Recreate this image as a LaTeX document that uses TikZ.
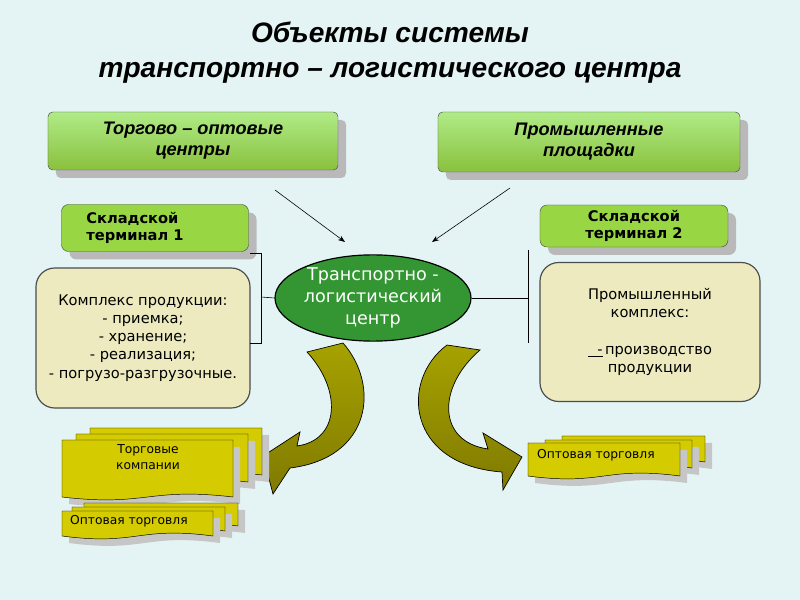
\documentclass[tikz,border=0pt]{standalone}
\usepackage{fontspec}
\setmainfont{DejaVu Sans}
\newfontfamily\titlefont{Liberation Sans}
\usetikzlibrary{arrows.meta, shadows, shapes.geometric}
\definecolor{bg}{RGB}{228, 244, 244}
\definecolor{lime}{RGB}{153, 214, 68}
\definecolor{pale}{RGB}{236, 234, 190}
\definecolor{forest}{RGB}{51, 150, 51}
\definecolor{mustard}{RGB}{212, 204, 0}
\definecolor{olive}{RGB}{128, 122, 0}
\newcommand{\docsheet}[4]{
  \fill[gray!45] (#1 + 7, #2 + 7) -- (#3 + 7, #2 + 7) -- (#3 + 7, #4 + 7)
    .. controls ({(#1 + #3)/2 + 7}, #4 - 3) and ({(#1 + #3)/2 + 7}, #4 + 17) .. (#1 + 7, #4 + 7) -- cycle;
  \draw[fill=mustard] (#1, #2) -- (#3, #2) -- (#3, #4)
    .. controls ({(#1 + #3)/2}, #4 - 10) and ({(#1 + #3)/2}, #4 + 10) .. (#1, #4) -- cycle;
}
\tikzset{
  lift/.style={drop shadow={shadow xshift=0.24cm, shadow yshift=-0.24cm, fill=gray!55, opacity=1}},
  head/.style={draw=black!70, rounded corners=4pt, lift, align=center,
               top color=green!20!lime!60!white, bottom color=lime!90!black,
               font=\titlefont\bfseries\itshape\fontsize{15.5}{18}\selectfont},
  term/.style={draw=black!70, fill=lime, rounded corners=6pt, lift,
               font=\bfseries\fontsize{12.5}{15}\selectfont},
  info/.style={draw=black!70, line width=1pt, fill=pale, rounded corners=16pt,
               align=center, font=\fontsize{12.5}{15.5}\selectfont},
  doctext/.style={font=\fontsize{10.5}{13}\selectfont, align=center},
  link/.style={draw=black, line width=0.5pt},
  swirl/.style={draw=black, line width=0.6pt, top color=olive!70!yellow, bottom color=olive}
}
\begin{document}
\begin{tikzpicture}[x=0.03cm, y=-0.03cm]
  % Canvas
  \fill[bg] (0, 0) rectangle (800, 600);
  \useasboundingbox (0, 0) rectangle (800, 600);

  % Title
  \node[font=\titlefont\bfseries\itshape\fontsize{24}{30}\selectfont, align=center]
    (title) at (390, 53) {Объекты системы\\транспортно – логистического центра};

  % Top groups
  \node[head, minimum width=8.7cm, minimum height=1.74cm] (trade) at (193, 141)
    {Торгово – оптовые\\центры};
  \node[head, minimum width=9.06cm, minimum height=1.8cm] (indus) at (589, 142)
    {Промышленные\\площадки};

  % Centre
  \node[ellipse, draw=black, line width=1pt, fill=forest, text=white, align=center,
        minimum width=5.88cm, minimum height=2.58cm, inner sep=0pt,
        font=\fontsize{15}{19}\selectfont] (hub) at (373, 298)
    {Транспортно -\\логистический\\центр};

  \coordinate (a1) at (275, 190);
  \coordinate (b1) at (345, 242);
  \coordinate (a2) at (510, 188);
  \coordinate (b2) at (432, 242);
  \draw[link, -{Stealth[length=6pt]}] (a1) -- (b1);
  \draw[link, -{Stealth[length=6pt]}] (a2) -- (b2);

  % Left side
  \node[term, minimum width=5.61cm, minimum height=1.41cm, align=left] (term1) at (155, 228)
    {Складской\\терминал 1\hspace*{1.2cm}};
  \node[info, minimum width=6.42cm, minimum height=4.2cm] (goods) at (143, 338)
    {Комплекс продукции:\\- приемка;\\- хранение;\\- реализация;\\- погрузо-разгрузочные.};
  \coordinate (l1) at (250, 253);
  \coordinate (l2) at (261, 253);
  \coordinate (l3) at (261, 343);
  \coordinate (l4) at (250, 343);
  \draw[link] (l1) -- (l2) -- (l3) -- (l4);
  \draw[link] (261, 297) -- (hub.west);

  % Right side
  \node[term, minimum width=5.64cm, minimum height=1.26cm, align=center] (term2) at (634, 226)
    {Складской\\терминал 2};
  \node[info, minimum width=6.6cm, minimum height=4.17cm] (plant) at (650, 332)
    {Промышленный\\комплекс:\\[15.5pt]\underline{\ \ -}\,производство\\продукции};
  \coordinate (r1) at (528, 250);
  \coordinate (r2) at (528, 343);
  \draw[link] (r1) -- (r2);
  \draw[link] (hub.east) -- (528, 298);

  % Curved arrows
  \path[swirl] (307, 352) -- (343, 343) .. controls (380, 385) and (372, 458) .. (290, 468)
    -- (273, 494) -- (263, 456) -- (300, 432) -- (297, 446)
    .. controls (340, 440) and (342, 390) .. (307, 352) -- cycle;
  \path[swirl] (447, 345) .. controls (400, 380) and (406, 465) .. (502, 472)
    -- (503, 490) -- (522, 457) -- (483, 433) -- (488, 449)
    .. controls (438, 442) and (436, 388) .. (480, 350) -- cycle;

  % Documents, left
  \docsheet{90}{428}{262}{475}
  \docsheet{76}{434}{248}{482}
  \docsheet{62}{440}{233}{497}
  \node[doctext] (firms) at (148, 457) {Торговые\\компании};
  \docsheet{84}{503}{238}{526}
  \docsheet{72}{507}{225}{531}
  \docsheet{62}{511}{213}{536}
  \node[doctext, anchor=west] (whole1) at (66, 521) {Оптовая торговля};

  % Documents, right
  \docsheet{562}{436}{705}{462}
  \docsheet{545}{440}{692}{468}
  \docsheet{528}{443}{680}{476}
  \node[doctext, anchor=west] (whole2) at (533, 455) {Оптовая торговля};
\end{tikzpicture}
\end{document}
